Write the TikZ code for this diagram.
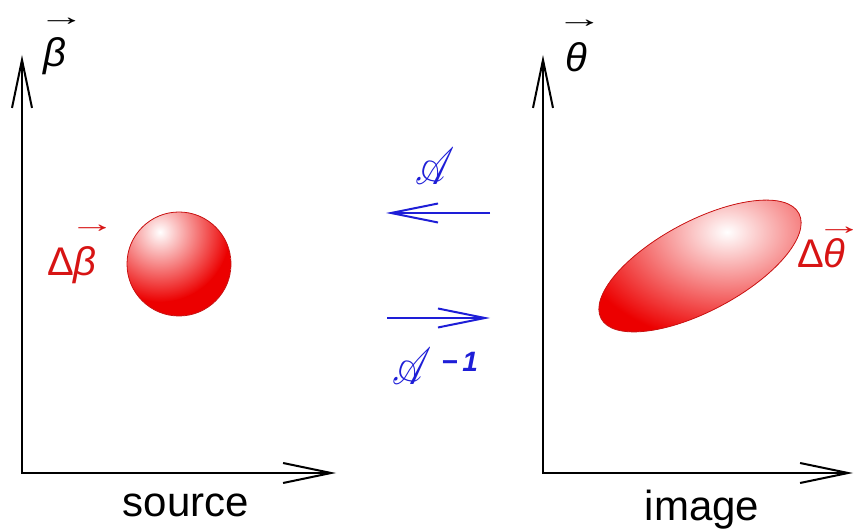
\documentclass[tikz,border=0pt]{standalone}
\usepackage{amsmath}
\usepackage{graphicx}
\usepackage{mathrsfs}
\usepackage{fontspec}
\setmainfont{Liberation Sans}
\usetikzlibrary{arrows.meta}
\definecolor{labred}{RGB}{215,20,20}
\definecolor{blobred}{RGB}{236,0,0}
\definecolor{edgered}{RGB}{200,20,20}
\definecolor{mapblue}{RGB}{30,30,215}
\newcommand\vecover[3]{\rlap{\hspace*{#2}\raisebox{#3}{\scalebox{1.8}[1]{\fontsize{26pt}{26pt}\selectfont\upshape →}}}#1}
\begin{document}
\begin{tikzpicture}[x=1pt,y=-1pt,
  axisline/.style={line width=2pt,{Straight Barb[length=48pt,width=20pt]}-{Straight Barb[length=48pt,width=20pt]}},
  mapline/.style={mapblue,line width=2pt,-{Straight Barb[length=47pt,width=19pt]}},
  lab/.style={inner sep=0pt,anchor=base west,font=\fontsize{40pt}{40pt}\selectfont},
  word/.style={inner sep=0pt,anchor=base,font=\fontsize{42pt}{42pt}\selectfont},
  blobedge/.style={draw=edgered,line width=0.8pt}]
\path[use as bounding box] (0,0) rectangle (855,529);
% axes
\coordinate (ytip1) at (22,55);
\coordinate (xtip1) at (336,473);
\coordinate (ytip2) at (543,55);
\coordinate (xtip2) at (853,473);
\draw[axisline] (ytip1) |- (xtip1);
\draw[axisline] (ytip2) |- (xtip2);
% circle
\begin{scope}
  \clip (179,264) circle (52pt);
  \fill[blobred] (179,264) circle (52pt);
  \shade[inner color=white,outer color=blobred] (160,232) circle (70pt);
\end{scope}
\draw[blobedge] (179,264) circle (52pt);
% ellipse
\begin{scope}
  \clip (700,266) ellipse [x radius=112pt,y radius=45pt,rotate=28];
  \fill[blobred] (700,266) ellipse [x radius=112pt,y radius=45pt,rotate=28];
  \shade[inner color=white,outer color=blobred] (727,232) ellipse [x radius=150pt,y radius=80pt,rotate=28];
\end{scope}
\draw[blobedge] (700,266) ellipse [x radius=112pt,y radius=45pt,rotate=28];
% labels
\node[lab] (betalab) at (43,67) {\vecover{\textit{β}}{-5pt}{41pt}};
\node[lab] (thetalab) at (565,72) {\vecover{\textit{θ}}{-9pt}{44pt}};
\node[lab,text=labred] (dbetalab) at (47,276) {Δ\vecover{\textit{β}}{-5pt}{43pt}};
\node[lab,text=labred] (dthetalab) at (797,268) {Δ\vecover{\textit{θ}}{-8pt}{33pt}};
% mapping arrows
\coordinate (a1s) at (490,213);
\coordinate (a1e) at (386,213);
\coordinate (a2s) at (387,318);
\coordinate (a2e) at (490,318);
\draw[mapline] (a1s) -- (a1e);
\draw[mapline] (a2s) -- (a2e);
\node[inner sep=0pt,anchor=base,text=mapblue] (Alab) at (435,185) {\scalebox{3.8}[5.2]{$\mathscr{A}$}};
\node[inner sep=0pt,anchor=base west,text=mapblue] (Ainvlab) at (392,385) {\scalebox{3.8}[5.2]{$\mathscr{A}$}\hspace{10pt}\raisebox{13pt}{\fontsize{28pt}{28pt}\selectfont\bfseries\itshape −\,1}};
% words
\node[word] (srcword) at (186,516) {source};
\node[word] (imgword) at (702,520) {image};
\end{tikzpicture}
\end{document}
